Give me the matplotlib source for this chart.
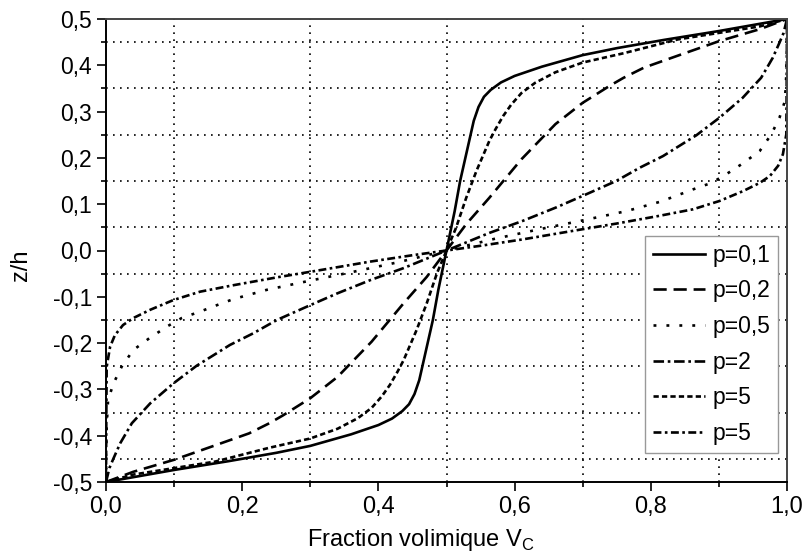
import numpy as np
import matplotlib
matplotlib.use("Agg")
import matplotlib.pyplot as plt
from matplotlib.ticker import FixedLocator

plt.rcParams["font.family"] = ["Liberation Sans", "DejaVu Sans"]

# valeurs (x = fraction volumique, y = z/h)
x_p01 = [0.0, 0.05, 0.10, 0.18, 0.25, 0.30, 0.36, 0.40, 0.42, 0.435, 0.445, 0.453, 0.46, 0.47, 0.48, 0.488, 0.5,
         0.512, 0.52, 0.53, 0.54, 0.547, 0.555, 0.565, 0.58, 0.60, 0.64, 0.70, 0.75, 0.82, 0.90, 0.95, 1.0]
y_p01 = [-0.5, -0.487, -0.474, -0.455, -0.437, -0.422, -0.397, -0.377, -0.363, -0.347, -0.332, -0.31, -0.28, -0.215, -0.15, -0.085, 0.0,
         0.085, 0.15, 0.215, 0.28, 0.31, 0.332, 0.347, 0.363, 0.377, 0.397, 0.422, 0.437, 0.455, 0.474, 0.487, 0.5]

x_p02 = [0.0, 0.04, 0.10, 0.16, 0.21, 0.24, 0.26, 0.30, 0.34, 0.39, 0.437, 0.471, 0.5,
         0.529, 0.563, 0.61, 0.66, 0.70, 0.74, 0.76, 0.79, 0.84, 0.90, 0.96, 1.0]
y_p02 = [-0.5, -0.478, -0.452, -0.421, -0.395, -0.373, -0.356, -0.319, -0.273, -0.197, -0.114, -0.057, 0.0,
         0.057, 0.114, 0.197, 0.273, 0.319, 0.356, 0.373, 0.395, 0.421, 0.452, 0.478, 0.5]

x_p05 = [0.0, 0.0005, 0.001, 0.003, 0.011, 0.023, 0.040, 0.065, 0.091, 0.111, 0.138, 0.163, 0.187, 0.236, 0.30, 0.36, 0.43, 0.5,
         0.57, 0.64, 0.70, 0.764, 0.813, 0.837, 0.862, 0.889, 0.909, 0.935, 0.960, 0.977, 0.989, 0.997, 0.999, 0.9995, 1.0]
y_p05 = [-0.5, -0.42, -0.38, -0.323, -0.287, -0.251, -0.215, -0.188, -0.163, -0.146, -0.132, -0.118, -0.105, -0.085, -0.065, -0.047, -0.025, 0.0,
         0.025, 0.047, 0.065, 0.085, 0.105, 0.118, 0.132, 0.146, 0.163, 0.188, 0.215, 0.251, 0.287, 0.323, 0.38, 0.42, 0.5]

x_p2 = [0.0, 0.005, 0.011, 0.021, 0.038, 0.065, 0.099, 0.133, 0.182, 0.216, 0.251, 0.300, 0.339, 0.388, 0.437, 0.5,
        0.563, 0.612, 0.661, 0.700, 0.749, 0.784, 0.818, 0.867, 0.901, 0.935, 0.962, 0.979, 0.989, 0.995, 1.0]
y_p2 = [-0.5, -0.47, -0.449, -0.416, -0.373, -0.330, -0.287, -0.249, -0.204, -0.179, -0.150, -0.118, -0.093, -0.064, -0.038, 0.0,
        0.038, 0.064, 0.093, 0.118, 0.150, 0.179, 0.204, 0.249, 0.287, 0.330, 0.373, 0.416, 0.449, 0.47, 0.5]

x_p5a = [0.0, 0.04, 0.10, 0.16, 0.24, 0.30, 0.34, 0.37, 0.39, 0.405, 0.417, 0.428, 0.437, 0.456, 0.471, 0.486, 0.5,
         0.514, 0.529, 0.544, 0.563, 0.572, 0.583, 0.595, 0.61, 0.63, 0.66, 0.70, 0.76, 0.84, 0.90, 0.96, 1.0]
y_p5a = [-0.5, -0.484, -0.470, -0.456, -0.426, -0.406, -0.385, -0.362, -0.340, -0.315, -0.29, -0.262, -0.237, -0.172, -0.114, -0.049, 0.0,
         0.049, 0.114, 0.172, 0.237, 0.262, 0.29, 0.315, 0.340, 0.362, 0.385, 0.406, 0.426, 0.456, 0.470, 0.484, 0.5]

x_p5b = [0.0, 0.0005, 0.001, 0.006, 0.013, 0.025, 0.040, 0.065, 0.099, 0.138, 0.187, 0.251, 0.300, 0.388, 0.451, 0.5,
         0.549, 0.612, 0.700, 0.749, 0.813, 0.862, 0.901, 0.935, 0.960, 0.975, 0.987, 0.994, 0.999, 0.9995, 1.0]
y_p5b = [-0.5, -0.35, -0.251, -0.208, -0.183, -0.161, -0.146, -0.128, -0.107, -0.089, -0.075, -0.058, -0.046, -0.024, -0.010, 0.0,
         0.010, 0.024, 0.046, 0.058, 0.075, 0.089, 0.107, 0.128, 0.146, 0.161, 0.183, 0.208, 0.251, 0.35, 0.5]

x_ticks = [0.0, 0.2, 0.4, 0.6, 0.8, 1.0]
x_ticklabels = ["0,0", "0,2", "0,4", "0,6", "0,8", "1,0"]
y_ticks = [-0.5, -0.4, -0.3, -0.2, -0.1, 0.0, 0.1, 0.2, 0.3, 0.4, 0.5]
y_ticklabels = ["-0,5", "-0,4", "-0,3", "-0,2", "-0,1", "0,0", "0,1", "0,2", "0,3", "0,4", "0,5"]

fig = plt.figure(figsize=(8.07, 5.58), dpi=100)
ax = fig.add_axes([106 / 807, 76 / 558, 681 / 807, 463 / 558])

lw = 1.9
ax.plot(x_p01, y_p01, color="black", lw=lw, linestyle="-", label="p=0,1")
ax.plot(x_p02, y_p02, color="black", lw=lw, linestyle=(0, (5, 2.6)), label="p=0,2")
ax.plot(x_p05, y_p05, color="black", lw=lw, linestyle=(0, (1.1, 3.8)), label="p=0,5")
ax.plot(x_p2, y_p2, color="black", lw=lw, linestyle=(0, (4, 1.4, 1, 1.4)), label="p=2")
ax.plot(x_p5a, y_p5a, color="black", lw=lw, linestyle=(0, (2, 1.2)), label="p=5")
ax.plot(x_p5b, y_p5b, color="black", lw=lw, linestyle=(0, (3, 1.3, 1, 1.3)), label="p=5")

ax.set_xlim(0, 1)
ax.set_ylim(-0.5, 0.5)
ax.set_xticks(x_ticks)
ax.set_xticklabels(x_ticklabels)
ax.set_yticks(y_ticks)
ax.set_yticklabels(y_ticklabels)
ax.xaxis.set_minor_locator(FixedLocator([0.1, 0.3, 0.5, 0.7, 0.9]))
ax.yaxis.set_minor_locator(FixedLocator([-0.45, -0.35, -0.25, -0.15, -0.05, 0.05, 0.15, 0.25, 0.35, 0.45]))
ax.tick_params(which="major", direction="out", length=6.5, width=1.2, pad=3.5)
ax.tick_params(axis="x", which="major", labelsize=17)
ax.tick_params(axis="y", which="major", labelsize=16.5)
ax.tick_params(which="minor", direction="out", length=3.8, width=1.2)
ax.grid(which="minor", color="black", linestyle=(0, (1, 3.2)), linewidth=1.2)
ax.grid(which="major", visible=False)

for s in ax.spines.values():
    s.set_linewidth(1.4)
ax.spines["top"].set_color("#444444")
ax.spines["right"].set_color("#444444")

ax.set_xlabel("Fraction volimique V$_\\mathregular{C}$", fontsize=17)
ax.set_ylabel("z/h", fontsize=17)
ax.xaxis.set_label_coords(0.462, -0.098)
ax.yaxis.set_label_coords(-0.109, 0.469)

leg = ax.legend(loc="lower right", bbox_to_anchor=(0.987, 0.063), borderaxespad=0,
                fontsize=16.5, frameon=True, fancybox=False, framealpha=1,
                edgecolor="#999999", handlelength=2.3, handletextpad=0.3,
                labelspacing=0.55, borderpad=0.35)
leg.get_frame().set_linewidth(1.0)

fig.savefig("out.png", dpi=100)
